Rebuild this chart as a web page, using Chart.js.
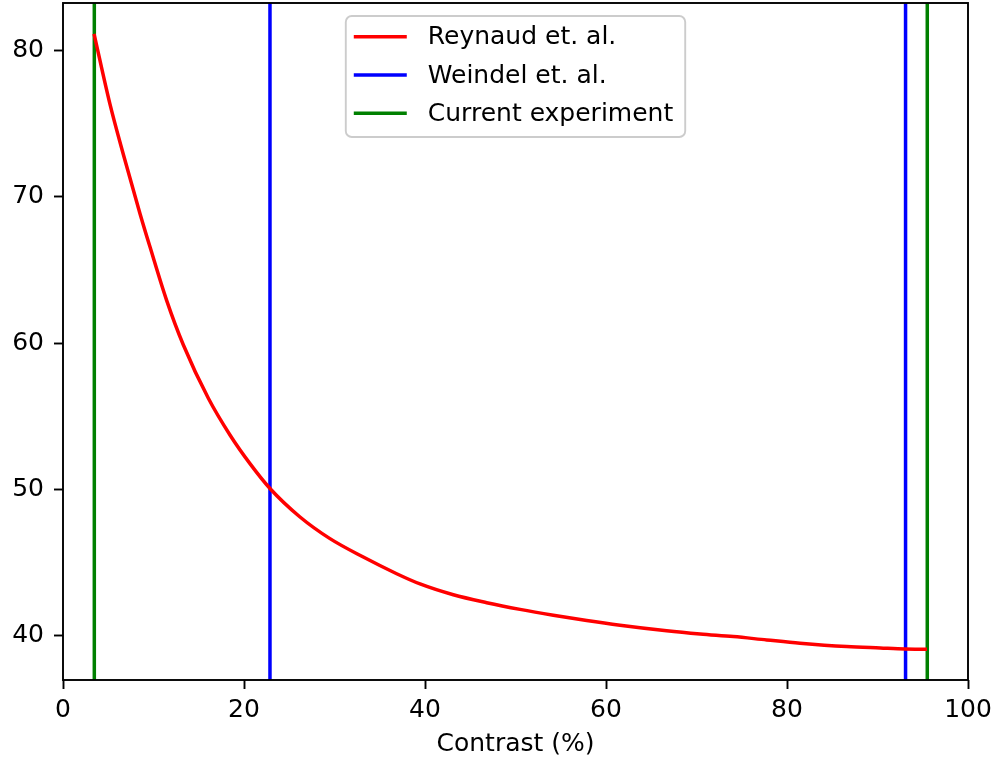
<!DOCTYPE html>
<html>
<head>
<meta charset="utf-8">
<title>Contrast</title>
<script src="https://cdn.jsdelivr.net/npm/chart.js@4/dist/chart.umd.min.js"></script>
<style>
  html, body { margin: 0; padding: 0; background: #fff; }
  #wrap { width: 995px; height: 757px; }
</style>
</head>
<body>
<div id="wrap"><canvas id="chart" width="995" height="757"></canvas></div>
<script>
// Reynaud et. al. curve
const contrast = [3.43, 5.19, 6.67, 8.51, 9.61, 11.46, 13.29, 16.06, 18.45, 20.66, 22.87, 26.19, 29.5,
  33.18, 36.87, 39.45, 43.13, 46.82, 50.5, 54.18, 57.87, 61.55, 66.7, 70.4, 74.07, 77.76,
  81.44, 86.6, 90.3, 93.04, 95.47];
const reynaud = [81.15, 76.34, 72.9, 68.85, 66.58, 62.9, 59.88, 56.22, 53.71, 51.75, 50.05, 48.1, 46.62,
  45.36, 44.22, 43.52, 42.78, 42.24, 41.78, 41.38, 41.02, 40.7, 40.32, 40.1, 39.92, 39.69,
  39.47, 39.24, 39.14, 39.07, 39.05];

// contrast bounds of each study (vertical lines)
const weindelBounds = [22.87, 93.1];
const currentBounds = [3.46, 95.5];

const xTicks = [0, 20, 40, 60, 80, 100];
const yTicks = [40, 50, 60, 70, 80];
const X_MIN = 0, X_MAX = 100;
const Y_MIN = 36.95, Y_MAX = 83.26;

const FONT = "'DejaVu Sans', 'Liberation Sans', sans-serif";
const FONT_SIZE = 25;
const LW = 3.5;

// each bound becomes a full-height segment, separated by a null gap
function vlines(bounds) {
  const pts = [];
  bounds.forEach((x, i) => {
    if (i > 0) pts.push({ x: (bounds[i - 1] + x) / 2, y: null });
    pts.push({ x, y: Y_MIN }, { x, y: Y_MAX });
  });
  return pts;
}

// box around the plot area
const frame = {
  id: "frame",
  afterDatasetsDraw(chart) {
    const { ctx, chartArea: a } = chart;
    ctx.save();
    ctx.strokeStyle = "#000";
    ctx.lineWidth = 1.9;
    ctx.strokeRect(a.left, a.top, a.right - a.left, a.bottom - a.top);
    ctx.restore();
  },
};

// legend drawn inside the axes, upper centre
const boxLegend = {
  id: "boxLegend",
  afterDraw(chart) {
    const { ctx, chartArea: a } = chart;
    const sets = chart.data.datasets;
    ctx.save();
    ctx.font = FONT_SIZE + "px " + FONT;
    const textW = Math.max(...sets.map((d) => ctx.measureText(d.label).width));
    const padL = 8, handle = 53, gap = 21, padR = 12;
    const w = padL + handle + gap + textW + padR;
    const rowH = 38.3, h = 121;
    const left = (a.left + a.right) / 2 - w / 2;
    const top = a.top + 13;

    ctx.beginPath();
    ctx.roundRect(left, top, w, h, 6);
    ctx.fillStyle = "rgba(255,255,255,0.8)";
    ctx.fill();
    ctx.strokeStyle = "#cccccc";
    ctx.lineWidth = 1.9;
    ctx.stroke();

    sets.forEach((d, i) => {
      const y = top + 20.7 + i * rowH;
      ctx.beginPath();
      ctx.moveTo(left + padL, y);
      ctx.lineTo(left + padL + handle, y);
      ctx.strokeStyle = d.borderColor;
      ctx.lineWidth = LW;
      ctx.stroke();
      ctx.fillStyle = "#000";
      ctx.textAlign = "left";
      ctx.textBaseline = "middle";
      ctx.fillText(d.label, left + padL + handle + gap, y + 1);
    });
    ctx.restore();
  },
};

Chart.defaults.font.family = FONT;
Chart.defaults.font.size = FONT_SIZE;
Chart.defaults.color = "#000";

new Chart(document.getElementById("chart"), {
  type: "line",
  data: {
    datasets: [
      {
        label: "Reynaud et. al.",
        data: contrast.map((x, i) => ({ x, y: reynaud[i] })),
        borderColor: "#ff0000",
        cubicInterpolationMode: "monotone",
      },
      {
        label: "Weindel et. al.",
        data: vlines(weindelBounds),
        borderColor: "#0000ff",
      },
      {
        label: "Current experiment",
        data: vlines(currentBounds),
        borderColor: "#008000",
      },
    ],
  },
  options: {
    responsive: false,
    animation: false,
    spanGaps: false,
    layout: { padding: { left: 0, right: 27, top: 3, bottom: 0 } },
    elements: {
      point: { radius: 0, hoverRadius: 0 },
      line: { borderWidth: LW, fill: false, tension: 0 },
    },
    plugins: {
      legend: { display: false },
      tooltip: { enabled: false },
    },
    scales: {
      x: {
        type: "linear",
        min: X_MIN,
        max: X_MAX,
        afterBuildTicks: (s) => { s.ticks = xTicks.map((value) => ({ value })); },
        afterFit: (s) => { s.height = 77; s.paddingLeft = 0; s.paddingRight = 0; },
        border: { display: false },
        grid: { drawOnChartArea: false, drawTicks: true, tickLength: 9, tickWidth: 1.9, tickColor: "#000" },
        ticks: { padding: 6, maxRotation: 0, autoSkip: false },
        title: {
          display: true,
          text: "Contrast (%)",
          font: { lineHeight: 1.0 },
          padding: { top: 0, bottom: 0 },
        },
      },
      y: {
        type: "linear",
        min: Y_MIN,
        max: Y_MAX,
        afterBuildTicks: (s) => { s.ticks = yTicks.map((value) => ({ value })); },
        afterFit: (s) => { s.width = 63; s.paddingTop = 0; s.paddingBottom = 0; },
        border: { display: false },
        grid: { drawOnChartArea: false, drawTicks: true, tickLength: 9, tickWidth: 1.9, tickColor: "#000" },
        ticks: { padding: 10, autoSkip: false },
      },
    },
  },
  plugins: [frame, boxLegend],
});
</script>
</body>
</html>
